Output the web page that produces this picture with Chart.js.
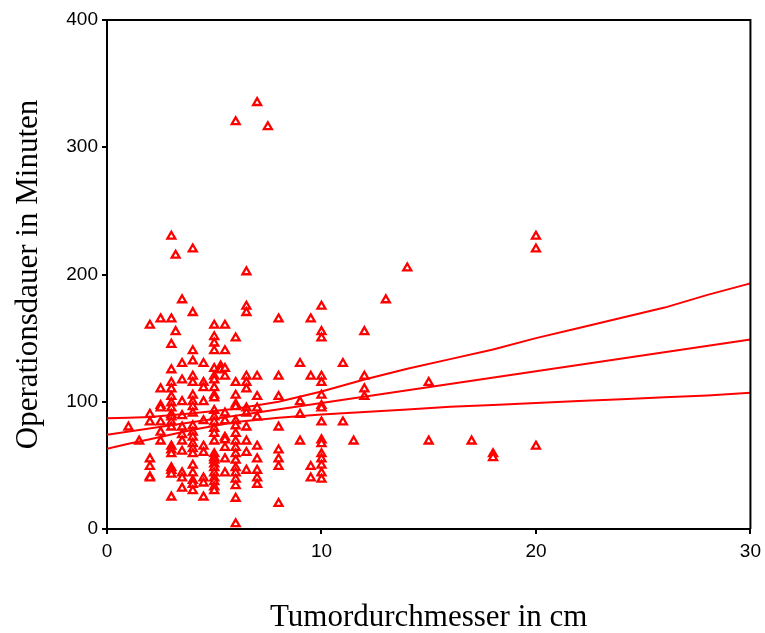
<!DOCTYPE html>
<html>
<head>
<meta charset="utf-8">
<script src="https://cdn.jsdelivr.net/npm/chart.js@4/dist/chart.umd.min.js"></script>
<style>
  html, body { margin: 0; padding: 0; background: #fff; }
  #wrap { width: 765px; height: 633px; }
</style>
</head>
<body>
<div id="wrap"><canvas id="chart"></canvas></div>
<script>
// tumor diameter (cm) for each column of observations
const tumorCm = [1, 1.5, 2, 2.5, 3, 3.2, 3.5, 4, 4.5, 5, 5.3, 5.5, 6, 6.5, 7, 7.5, 8, 9, 9.5, 10, 11, 11.5, 12, 13, 14, 15, 17, 18, 20];
// operation times (min) read for each column above
const dauerMin = [
  [80],
  [69],
  [160, 90, 84, 55, 49, 41, 40],
  [165, 110, 97, 95, 84, 76, 69],
  [230, 165, 145, 125, 115, 110, 104, 99, 95, 90, 88, 84, 80, 65, 62, 59, 48, 46, 43, 25],
  [215, 155],
  [180, 130, 117, 100, 89, 80, 74, 69, 61, 44, 40, 32],
  [220, 170, 140, 132, 120, 115, 105, 100, 96, 91, 81, 76, 72, 67, 63, 59, 50, 44, 38, 35, 30],
  [130, 115, 111, 100, 85, 65, 60, 40, 36, 25],
  [160, 151, 146, 140, 126, 120, 117, 111, 105, 103, 93, 88, 84, 79, 75, 69, 59, 56, 54, 51, 48, 44, 40, 37, 33, 30],
  [128, 125],
  [160, 140, 126, 120, 91, 85, 72, 70, 64, 55, 44],
  [320, 150, 115, 105, 98, 96, 85, 81, 75, 69, 64, 59, 54, 48, 44, 39, 34, 24, 4],
  [202, 175, 170, 120, 115, 110, 95, 91, 80, 69, 60, 46],
  [335, 120, 104, 95, 88, 65, 55, 46, 40, 35],
  [316],
  [165, 120, 104, 80, 62, 55, 49, 20],
  [130, 100, 90, 69],
  [165, 120, 49, 40],
  [175, 155, 150, 120, 115, 105, 97, 95, 84, 70, 67, 59, 55, 50, 44, 39],
  [130, 84],
  [69],
  [155, 120, 110, 104],
  [180],
  [205],
  [115, 69],
  [69],
  [59, 56],
  [230, 220, 65]
];

// regression line and confidence band
const fitX = [0, 10, 20, 30];
const fitY = [74, 99, 124, 149];
const bandX = [0, 1, 2, 4, 6, 8, 10, 12, 14, 16, 18, 20, 22, 24, 26, 28, 30];
const upperY = [87, 87.5, 88, 91, 94.5, 100, 108, 117.5, 126, 133.5, 141, 150, 158, 166, 174, 184, 193];
const lowerY = [63, 67, 70.5, 78, 84, 87.5, 90, 92, 94, 96, 97.5, 99, 100.5, 102, 103.5, 105, 107];

const xTicks = [0, 10, 20, 30];
const yTicks = [0, 100, 200, 300, 400];

const RED = '#ff0000';

const points = [];
tumorCm.forEach((x, i) => dauerMin[i].forEach(y => points.push({ x: x, y: y })));
const toXY = (xs, ys) => xs.map((x, i) => ({ x: x, y: ys[i] }));

const lineStyle = {
  type: 'line',
  borderColor: RED,
  borderWidth: 2,
  pointRadius: 0,
  fill: false,
  tension: 0
};

// top and right frame lines
const framePlugin = {
  id: 'frame',
  afterDraw(chart) {
    const a = chart.chartArea;
    const ctx = chart.ctx;
    ctx.save();
    ctx.strokeStyle = '#000';
    ctx.lineWidth = 2;
    ctx.beginPath();
    ctx.moveTo(a.left, a.top);
    ctx.lineTo(a.right, a.top);
    ctx.lineTo(a.right, a.bottom);
    ctx.stroke();
    ctx.restore();
  }
};

new Chart(document.getElementById('chart'), {
  type: 'scatter',
  data: {
    datasets: [
      {
        data: points,
        pointStyle: 'triangle',
        pointRadius: 4.6,
        pointBorderWidth: 2.3,
        pointBackgroundColor: '#fff',
        pointBorderColor: RED,
        order: 2
      },
      Object.assign({ data: toXY(bandX, upperY), order: 1 }, lineStyle),
      Object.assign({ data: toXY(fitX, fitY), order: 1 }, lineStyle),
      Object.assign({ data: toXY(bandX, lowerY), order: 1 }, lineStyle)
    ]
  },
  options: {
    responsive: true,
    maintainAspectRatio: false,
    animation: false,
    layout: { padding: { left: 0, top: 20, right: 14, bottom: 0 } },
    plugins: {
      legend: { display: false },
      tooltip: { enabled: false }
    },
    scales: {
      x: {
        type: 'linear',
        min: 0,
        max: 30,
        afterBuildTicks: s => { s.ticks = xTicks.map(v => ({ value: v })); },
        afterFit: s => { s.height = 104; },
        border: { color: '#000', width: 2 },
        grid: { drawOnChartArea: false, drawTicks: true, tickLength: 5, color: '#000', lineWidth: 2 },
        ticks: { color: '#000', padding: 4, font: { family: 'Liberation Sans', size: 19, lineHeight: 1.5 } },
        title: {
          display: true,
          text: 'Tumordurchmesser in cm',
          color: '#000',
          padding: { top: 0, bottom: 0 },
          font: { family: 'Liberation Serif', size: 31, lineHeight: 1.0 }
        }
      },
      y: {
        type: 'linear',
        min: 0,
        max: 400,
        afterBuildTicks: s => { s.ticks = yTicks.map(v => ({ value: v })); },
        afterFit: s => { s.width = 107; },
        border: { color: '#000', width: 2 },
        grid: { drawOnChartArea: false, drawTicks: true, tickLength: 5, color: '#000', lineWidth: 2 },
        ticks: { color: '#000', padding: 4, font: { family: 'Liberation Sans', size: 19 } },
        title: {
          display: true,
          text: 'Operationsdauer in Minuten',
          color: '#000',
          padding: { top: 10, bottom: 0 },
          font: { family: 'Liberation Serif', size: 31 }
        }
      }
    }
  },
  plugins: [framePlugin]
});
</script>
</body>
</html>
